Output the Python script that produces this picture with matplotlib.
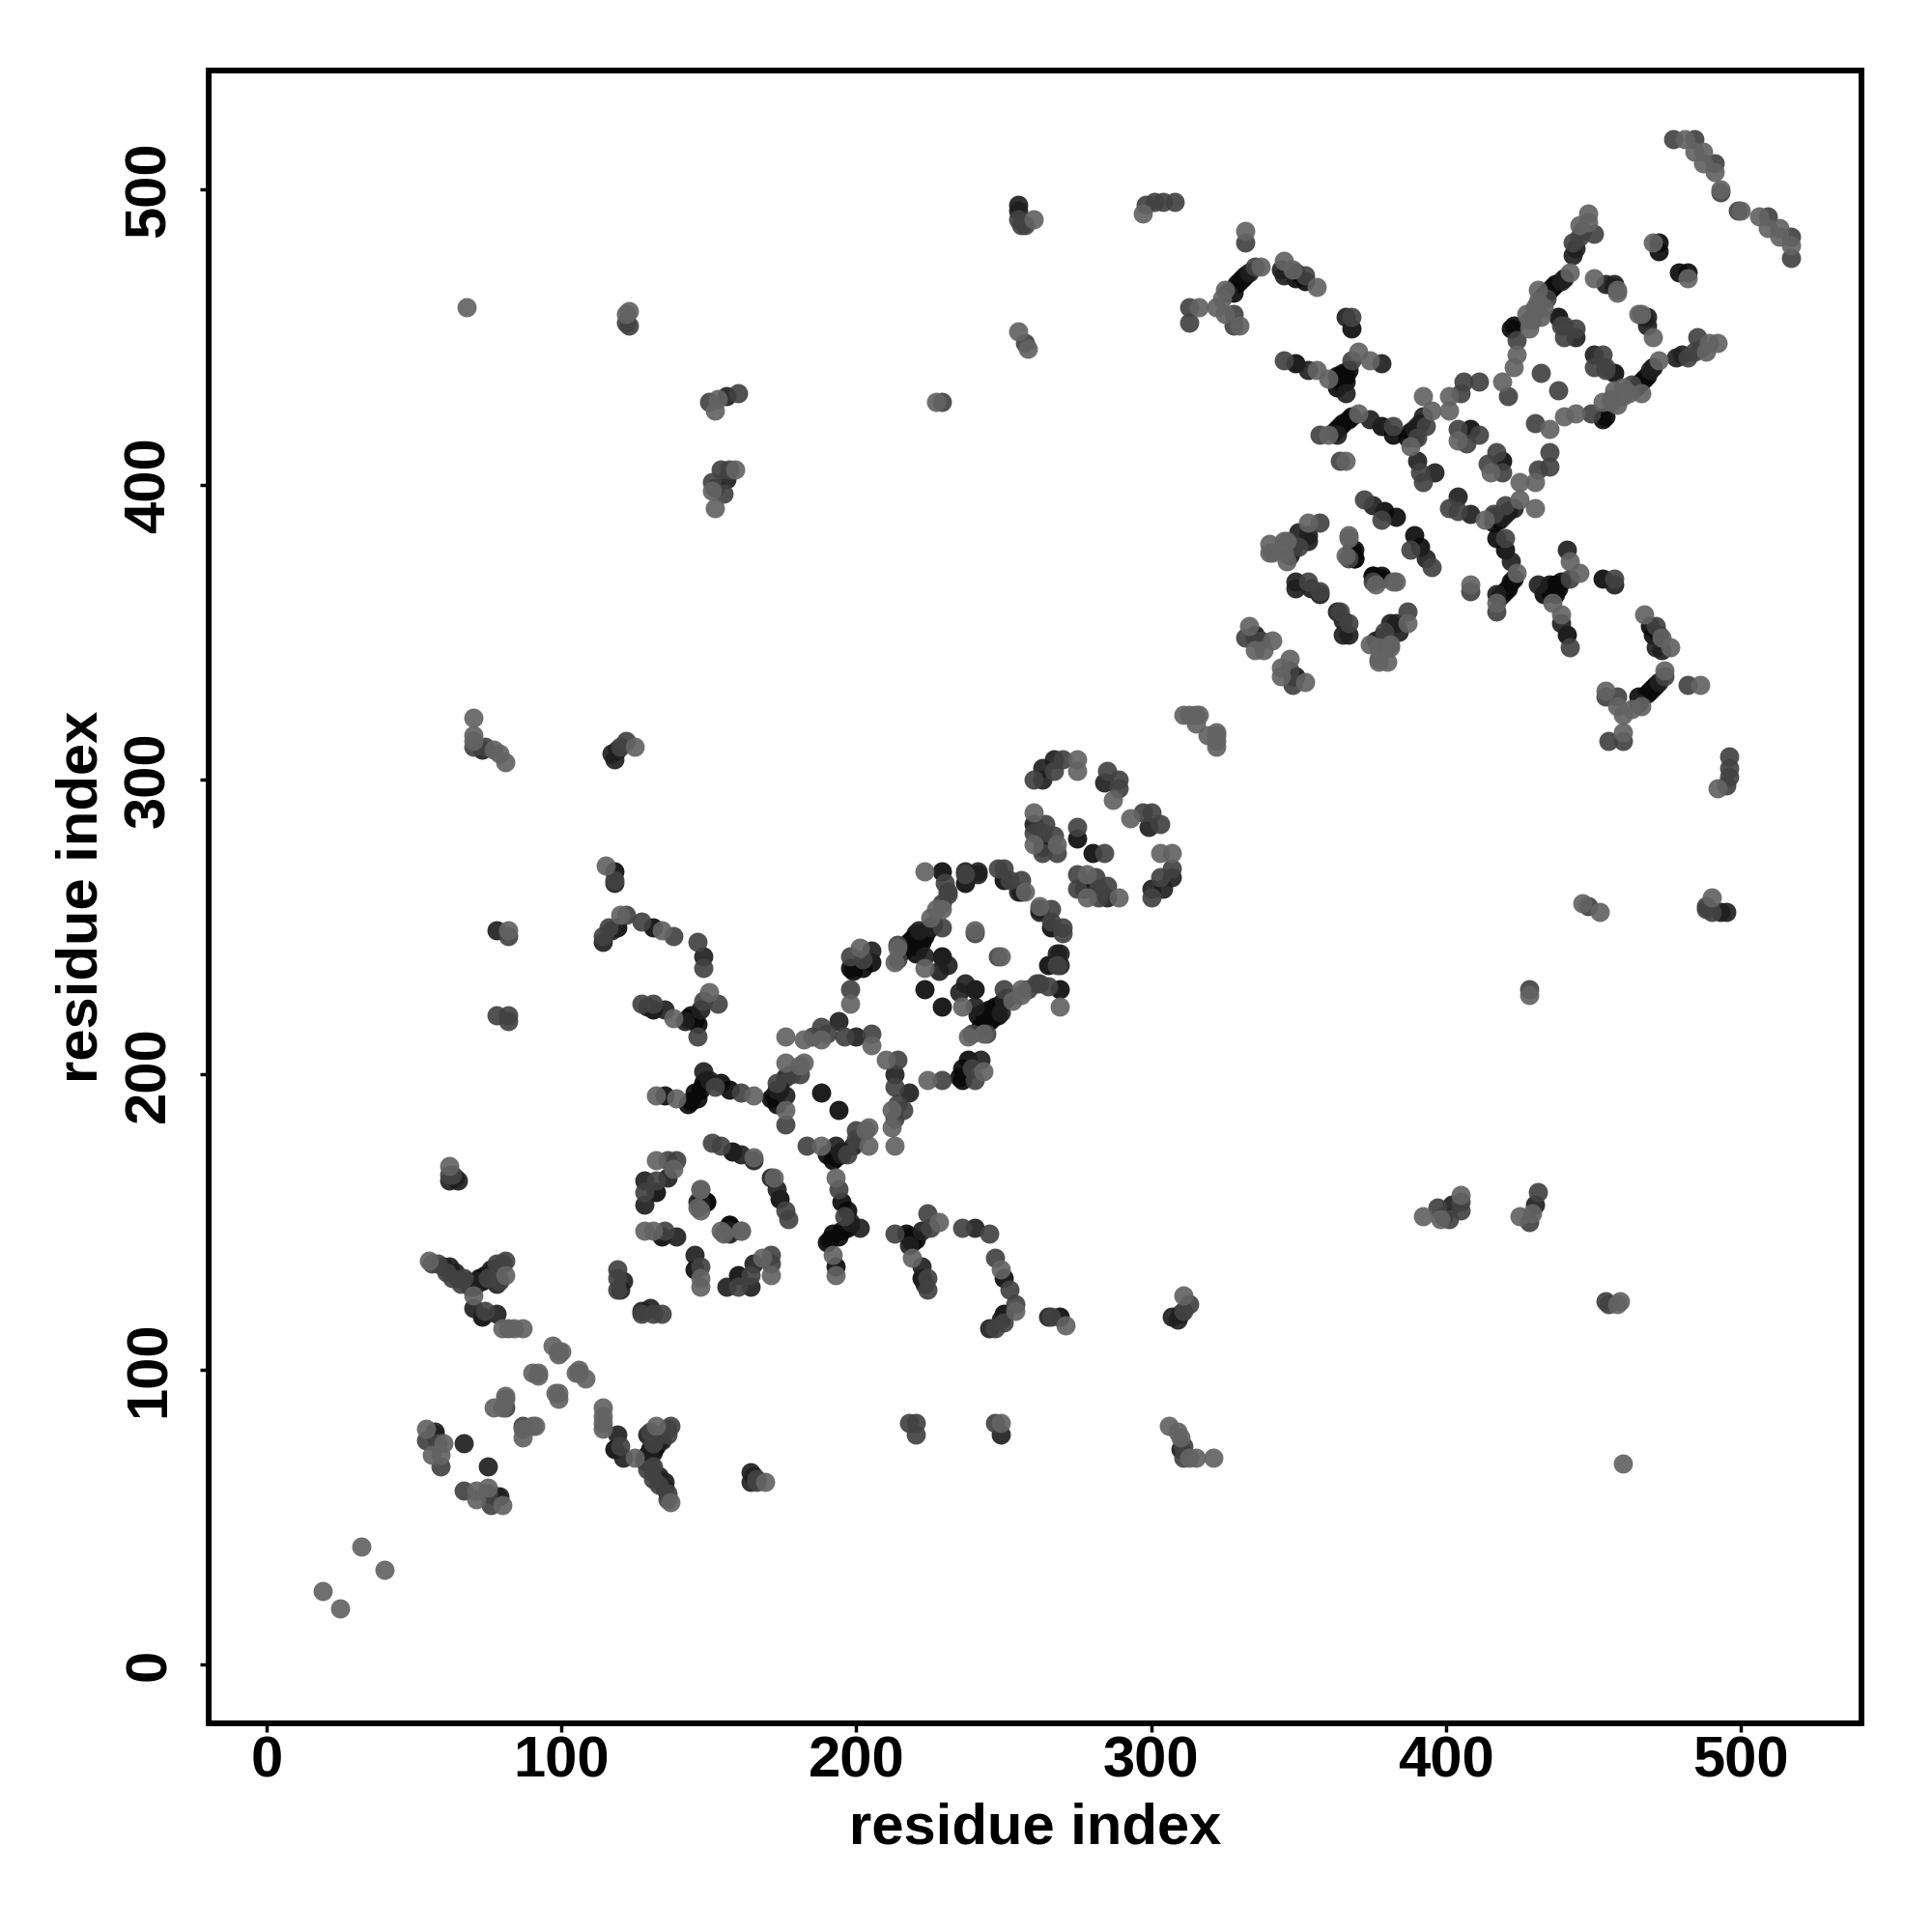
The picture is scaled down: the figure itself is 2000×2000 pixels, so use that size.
#!/usr/bin/env python3
# contact map, residue pairs (i < j), mirrored when drawn
import numpy as np
import matplotlib
matplotlib.use("Agg")
import matplotlib.pyplot as plt

plt.rcParams['font.family'] = ['Liberation Sans', 'DejaVu Sans']
plt.rcParams['font.weight'] = 'bold'

ticks = [0, 100, 200, 300, 400, 500]

contacts_black = [
    (69,128),(71,129),(70,128),(72,131),(74,132),(73,130),(73,118),
    (132,160),(149,157),(134,145),(157,149),(158,174),(188,194),
    (135,193),(144,191),(145,194),(146,192),(147,195),(148,197),(149,198),(154,197),(157,195),(143,190),
    (171,192),(173,190),(172,193),(174,195),
    (131,250),(119,250),(131,222),(143,219),(144,220),(146,217),(145,218),
    (331,470),(329,468),(328,465),(330,469),(332,471),(349,470),(352,469),(349,472),(368,453),
    (346,378),(369,378),(369,375),(375,369),(378,368),(379,391),(383,389),
    (349,441),(363,437),(366,435),(365,438),(363,433),(364,435),(365,436),(366,437),(367,439),
    (364,420),(367,422),(365,421),(378,420),(382,417),(362,418),(363,419),(368,423),
    (388,418),(408,419),(389,416),(391,421),(387,416),
    (436,467),(434,465),(437,468),(435,466),(433,464),(423,454),(438,457),(440,470),(422,453),
    (472,482),(472,479),
    (198,236),(202,236),(199,235),(205,238),
    (219,246),(218,245),(220,248),(217,243),(229,240),(223,229),(222,247),(216,242),
    (220,241),(220,246),(221,243),(222,245),(223,247),(224,249),
    (237,265),(250,266),(256,262),(275,280),(118,269),(229,269),
]
contacts_dark = [
    (60,135),(62,135),(64,133),(65,131),(68,130),(76,134),(77,134),(78,129),(72,130),
    (70,121),(78,119),(57,79),(57,78),(67,75),
    (65,164),(64,165),(62,164),(121,130),(120,127),
    (128,164),(136,165),(128,156),(146,157),(139,145),(157,147),(161,173),(165,171),
    (148,201),(150,198),(173,195),(176,193),(176,199),
    (118,265),(114,245),(117,249),(148,240),(135,222),(142,218),(147,222),(129,223),
    (78,249),(118,307),(117,309),(119,310),(73,310),(156,430),(156,402),(152,399),
    (255,495),(255,493),(326,465),(333,472),(344,473),(345,471),(366,457),
    (335,349),(335,348),(350,384),(346,380),(349,367),(375,393),(347,376),
    (353,439),(366,431),(378,441),(363,417),(374,422),(390,420),(390,408),(396,404),(389,419),(392,423),
    (443,478),(439,469),(444,480),(444,450),(454,468),(457,468),(457,467),
    (194,218),(200,213),(205,242),(221,249),(223,240),(228,235),(231,237),(225,250),(226,251),
    (241,268),(241,269),(237,269),(255,262),(263,300),(263,304),(267,307),(284,299),
    (260,285),(264,278),(263,277),(357,363),(354,365),(349,365),(353,381),(353,383),(348,378),
]
contacts_mid = [
    (56,136),(58,136),(61,133),(66,129),(67,131),(75,131),(78,136),(80,136),(81,137),(79,130),(63,131),
    (74,120),(81,87),(54,76),(59,67),(58,75),(62,166),(63,166),(119,134),(119,131),(119,127),
    (136,171),(139,171),(135,147),(132,164),(128,160),(151,177),(154,176),
    (161,194),(152,196),(176,183),(178,200),(181,200),(173,197),
    (118,266),(114,247),(122,254),(127,252),(138,247),(116,250),(146,245),(148,236),
    (127,224),(131,224),(148,225),(153,224),(146,213),
    (70,311),(74,311),(122,313),(120,311),(82,247),(78,220),(82,220),(82,218),(122,455),(123,454),
    (150,428),(160,431),(154,405),(157,405),(151,401),(155,397),(229,428),(257,448),
    (256,488),(257,488),(255,490),(298,495),(301,496),(304,496),(308,496),
    (313,460),(313,455),(328,458),(328,454),(335,474),(332,482),(352,471),(368,457),(332,348),(337,347),
    (357,387),(350,379),(353,367),(357,364),(372,395),(375,367),(378,388),
    (345,442),(368,442),(357,417),(364,408),(382,420),
    (406,435),(411,435),(405,431),(404,419),(411,417),(407,414),(391,404),(392,401),(393,420),(390,416),
    (421,430),(432,438),(446,486),(450,485),(443,482),(424,449),(429,456),(444,453),(439,454),(445,484),(434,463),(440,450),(440,454),
    (477,517),(484,517),(491,509),(493,499),
    (185,213),(188,216),(196,213),(205,214),(190,214),(198,229),(198,240),(202,239),
    (214,239),(229,250),(229,258),(214,244),(231,261),(230,265),(231,262),(237,268),
    (248,270),(250,270),(252,266),(256,266),(240,248),
    (260,300),(267,303),(270,307),(285,303),(289,300),(289,297),
    (264,285),(260,282),(267,281),(268,275),(263,275),(275,284),(263,282),
]
contacts_pale = [
    (19,25),(32,40),(68,460),(62,169),(55,137),(81,132),(70,125),(80,114),(82,114),(84,114),(87,114),
    (81,91),(77,87),(81,90),(80,87),(54,80),(60,75),(56,71),(59,71),
    (97,108),(99,106),(99,105),(100,106),(90,99),(92,99),(92,98),
    (132,171),(138,168),(128,147),(131,147),(154,147),(161,147),(147,161),(146,155),(165,172),
    (132,193),(139,192),(165,193),(176,188),(176,204),(182,204),(181,203),
    (115,271),(120,254),(134,249),(138,219),(150,228),
    (70,321),(70,315),(70,313),(77,310),(79,309),(81,306),(125,311),(82,249),
    (123,459),(122,458),(153,429),(152,425),(152,392),(159,405),(151,398),
    (227,428),(255,452),(258,446),(260,490),(297,492),
    (313,322),(316,322),(311,322),(315,319),(315,322),
    (316,460),(322,460),(325,458),(324,463),(325,466),(330,454),(337,474),
    (332,486),(345,476),(348,473),(356,467),
    (333,352),(341,347),(335,344),(338,344),
    (340,380),(340,377),(346,374),(345,381),(353,387),(367,383),(366,376),(382,367),(345,377),(346,381),(341,377),
    (356,439),(360,436),(370,445),(374,442),(360,417),(366,408),(370,424),
    (392,430),(395,425),(401,430),(401,425),(388,413),(404,415),(419,435),
    (448,492),(445,488),(442,472),(431,466),(431,462),(428,456),(424,444),(423,440),(427,458),(430,460),
    (433,460),(432,457),(428,453),(448,489),(450,470),(458,466),(458,465),(470,482),
    (481,517),(484,513),(487,513),(487,509),(491,506),(493,500),
    (176,213),(182,212),(188,212),(205,210),(198,224),(201,243),
    (214,243),(225,253),(227,256),(223,236),(213,238),(229,256),(223,269),(240,249),(257,262),
    (275,307),(275,303),(287,293),(260,289),(268,278),(260,278),
]

# darkest first, the paler ones sit on top like in the original
groups = [(contacts_black, '0.04'), (contacts_dark, '0.12'), (contacts_mid, '0.26'), (contacts_pale, '0.39')]

fig = plt.figure(figsize=(20, 20), dpi=100)
ax = fig.add_axes([216/2000, 216/2000, 1711/2000, 1711/2000])

for pairs, col in groups:
    pairs = np.array(pairs)
    ax.scatter(np.r_[pairs[:, 0], pairs[:, 1]], np.r_[pairs[:, 1], pairs[:, 0]],
               s=205, c=col, alpha=0.92, linewidths=0)

ax.set_xlim(-19.6, 540.8)
ax.set_ylim(-20, 540.4)
ax.set_xticks(ticks)
ax.set_yticks(ticks)
ax.tick_params(axis='both', length=6.5, width=2.5, labelsize=43)
ax.tick_params(axis='x', pad=2.5)
ax.tick_params(axis='y', pad=17.5)
for lab in ax.get_yticklabels():
    lab.set_rotation(90)
    lab.set_va('center')
for sp in ax.spines.values():
    sp.set_linewidth(4.3)
ax.set_xlabel('residue index', fontsize=43, fontweight='bold', labelpad=10)
ax.set_ylabel('residue index', fontsize=43, fontweight='bold', labelpad=11)

plt.savefig('out.png')
